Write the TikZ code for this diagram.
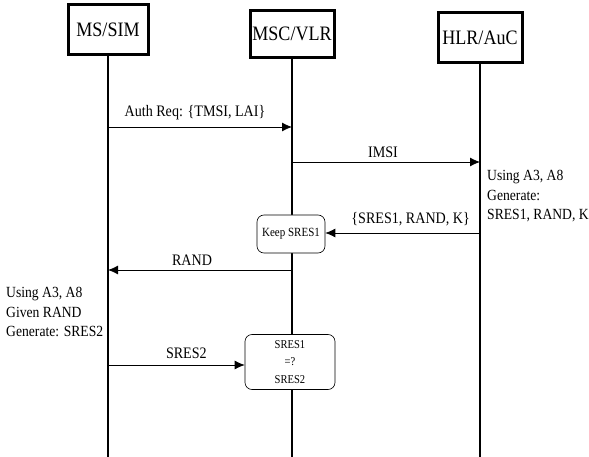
\documentclass[tikz,border=0pt]{standalone}
\usepackage{fontspec}
\setmainfont{Liberation Serif}[FakeStretch=0.88]
\usetikzlibrary{arrows.meta}
\begin{document}
\begin{tikzpicture}[x=1pt,y=-1pt,
  actor/.style={draw,line width=3pt,fill=white,inner sep=2pt,font=\fontsize{20.5}{22}\selectfont},
  life/.style={line width=2pt},
  msg/.style={line width=0.8pt,-{Latex[length=10pt,width=9pt]}},
  lbl/.style={font=\fontsize{16}{18}\selectfont},
  note/.style={draw,rounded corners=7pt,fill=white,line width=0.6pt,align=center,inner sep=1pt},
  side/.style={font=\fontsize{15.5}{19.5}\selectfont,align=left,anchor=north west,inner sep=0pt}]
\useasboundingbox (0,0) rectangle (589,457);
% actors
\node[actor,minimum width=80pt,minimum height=50pt] (ms) at (108,30) {MS/SIM};
\node[actor,minimum width=84pt,minimum height=47pt] (msc) at (292,34) {MSC/VLR};
\node[actor,minimum width=84pt,minimum height=50pt] (hlr) at (480,38) {HLR/AuC};
% lifeline ends
\coordinate (msE) at (108,457);
\coordinate (mscE) at (292,457);
\coordinate (hlrE) at (480,457);
\draw[life] (ms.south) -- (msE);
\draw[life] (msc.south) -- (mscE);
\draw[life] (hlr.south) -- (hlrE);
% message points
\coordinate (m1a) at (108,127);
\coordinate (m1b) at (292,127);
\coordinate (m2a) at (292,162);
\coordinate (m2b) at (480,162);
\coordinate (m3a) at (480,233);
\coordinate (m4a) at (292,270);
\coordinate (m4b) at (108,270);
\coordinate (m5a) at (108,365);
% notes
\node[note,minimum width=68pt,minimum height=38pt,font=\fontsize{12.5}{14}\selectfont] (keep) at (291,234) {Keep SRES1};
\node[note,minimum width=90pt,minimum height=55pt,font=\fontsize{12}{17.5}\selectfont] (cmp) at (290,362) {SRES1\\=?\\SRES2};
% messages
\draw[msg] (m1a) -- node[lbl,above=3pt,xshift=-5pt] (l1) {Auth Req: \{TMSI, LAI\}} (m1b);
\draw[msg] (m2a) -- node[lbl,above=1pt,xshift=-3pt] (l2) {IMSI} (m2b);
\draw[msg] (m3a) -- node[lbl,above=3pt,xshift=8pt] (l3) {\{SRES1, RAND, K\}} (keep.east |- m3a);
\draw[msg] (m4a) -- node[lbl,above=1pt,xshift=-8pt] (l4) {RAND} (m4b);
\draw[msg] (m5a) -- node[lbl,above=3pt,xshift=10pt] (l5) {SRES2} (m5a -| cmp.west);
% side texts
\node[side] (t1) at (487,170) {Using A3, A8\\Generate:\\SRES1, RAND, K};
\node[side] (t2) at (6,287) {Using A3, A8\\Given RAND\\Generate: SRES2};
\end{tikzpicture}
\end{document}
